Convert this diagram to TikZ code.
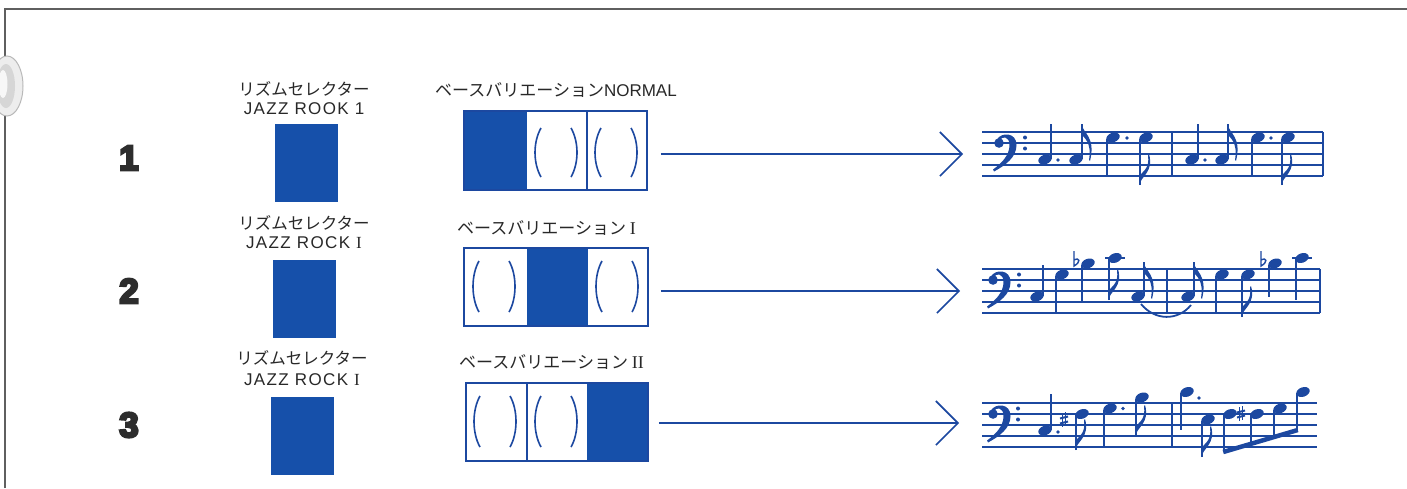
\documentclass[tikz,border=0pt]{standalone}
\usepackage{fontspec}
\setmainfont{Liberation Sans}
\newfontfamily\jp{Noto Sans CJK JP}
\newfontfamily\rom{Liberation Serif}
\newfontfamily\numf{Liberation Sans Bold}[FakeBold=7]
\usetikzlibrary{arrows.meta,calc}
\definecolor{bfill}{RGB}{22,80,170}
\definecolor{bline}{RGB}{28,72,160}
\definecolor{txt}{RGB}{40,40,40}
\definecolor{numc}{RGB}{45,45,45}
\definecolor{framec}{RGB}{95,95,95}
% music helpers
\newcommand\mhead[2]{\fill[bline] (#1,#2) ellipse [x radius=6.9, y radius=4.7, rotate=20];}
\newcommand\nU[3]{\mhead{#1}{#2}\draw[stemst] (#1+6,#2-1) -- (#1+6,#3);}
\newcommand\nD[3]{\mhead{#1}{#2}\draw[stemst] (#1-6,#2+1) -- (#1-6,#3);}
\newcommand\flU[2]{\fill[bline] (#1-0.8,#2) .. controls (#1+1,#2+9) and (#1+14,#2+13) .. (#1+8,#2+37) -- (#1+7,#2+36) .. controls (#1+10,#2+18) and (#1+2,#2+14) .. (#1-0.8,#2+10) -- cycle;}
\newcommand\flD[2]{\fill[bline] (#1-0.8,#2) .. controls (#1+1,#2-9) and (#1+14,#2-13) .. (#1+9,#2-31) -- (#1+8,#2-30) .. controls (#1+10,#2-16) and (#1+2,#2-13) .. (#1-0.8,#2-9) -- cycle;}
\newcommand\mdot[2]{\fill[bline] (#1,#2) circle (1.9);}
\newcommand\mflat[2]{\draw[bline,line width=1.4] (#1,#2-11) -- (#1,#2+4) .. controls (#1+7,#2) and (#1+6,#2-5) .. (#1,#2-2);}
\newcommand\msharp[2]{\draw[bline,line width=1.1] (#1-1.8,#2-7)--(#1-1.8,#2+7) (#1+1.8,#2-8)--(#1+1.8,#2+6);
  \draw[bline,line width=2] (#1-4,#2-1.5)--(#1+4,#2-3.5) (#1-4,#2+3.5)--(#1+4,#2+1.5);}
\newcommand\mledger[2]{\draw[staffl] (#1-10,#2) -- (#1+10,#2);}
\newcommand\mbar[2]{\draw[staffl] (#1,#2) -- (#1,#2+44);}
\newcommand\mstaff[3]{\foreach \k in {0,...,4} {\draw[staffl] (#1,#3+11*\k) -- (#2,#3+11*\k);}}
\newcommand\mclef[3]{\begin{scope}[shift={(#1,#2)}]
  \fill[bline] (0,0) circle (4.8);
  \fill[bline] (-2,-3.5) .. controls (2,-11) and (17.5,-11) .. (17.5,2) .. controls (17.5,14) and (7,22) .. (-5,28.5) -- (-6,26.5) .. controls (3,20) and (10.5,12) .. (10.5,2) .. controls (10.5,-7) and (3,-7) .. (1,-3) -- cycle;
  \fill[bline] (#3,-5.5) circle (2) (#3,5.5) circle (2);
  \end{scope}}
\newcommand\mparens[3]{% x0 (cell left), top, bottom
  \draw[parst] (#1+14,#2) .. controls (#1+6,#2+14) and (#1+6,#3-14) .. (#1+14,#3);
  \draw[parst] (#1+44,#2) .. controls (#1+52,#2+14) and (#1+52,#3-14) .. (#1+44,#3);}
\begin{document}
\begin{tikzpicture}[x=1pt,y=-1pt,
  staffl/.style={bline,line width=1.6},
  stemst/.style={bline,line width=1.8},
  parst/.style={bline,line width=1.6},
  selbox/.style={fill=bfill,inner sep=0pt,minimum width=63pt,minimum height=78pt},
  varbox/.style={draw=bline,line width=1.8pt,inner sep=0pt,minimum width=183pt,minimum height=79pt},
  lab/.style={text=txt,inner sep=0pt,font=\jp\fontsize{16.5}{18}\selectfont},
  labl/.style={text=txt,inner sep=0pt,font=\fontsize{17}{19}\selectfont\addfontfeature{LetterSpace=8}},
  vlab/.style={text=txt,inner sep=0pt,anchor=west,font=\jp\fontsize{17}{19}\selectfont},
  numst/.style={text=numc,inner sep=0pt,font=\numf\fontsize{35}{38}\selectfont},
  conn/.style={bline,line width=1.6pt,-{Straight Barb[length=22pt,width=44pt]}}]
\useasboundingbox (0,0) rectangle (1407,488);
\fill[white] (0,0) rectangle (1407,488);
% frame
\draw[framec,line width=1.5] (5,488) -- (5,9) -- (1407,9);
% binder ring
\fill[gray!14] (7,86) ellipse [x radius=16, y radius=30];
\draw[gray!55,line width=1] (7,86) ellipse [x radius=16, y radius=30];
\fill[gray!32] (6,86) ellipse [x radius=9, y radius=22];
\fill[gray!6] (3,84) ellipse [x radius=4.5, y radius=14];
% numbers
\node[numst] (n1) at (129,158) {1};
\node[numst] (n2) at (129,291) {2};
\node[numst] (n3) at (129,425) {3};
% selector labels and boxes
\node[lab] (sa1) at (304,89) {リズムセレクター};
\node[labl] (sb1) at (304,109) {JAZZ ROOK 1};
\node[selbox] (s1) at (306,163) {};
\node[lab] (sa2) at (304,223) {リズムセレクター};
\node[labl] (sb2) at (304,243) {JAZZ ROCK {\rom I}};
\node[selbox] (s2) at (304.5,298.5) {};
\node[lab] (sa3) at (302,358) {リズムセレクター};
\node[labl] (sb3) at (302,380) {JAZZ ROCK {\rom I}};
\node[selbox] (s3) at (302.5,436) {};
% variation labels
\node[vlab] (va1) at (435,90) {ベースバリエーション\fontspec{Liberation Sans}NORMAL};
\node[vlab] (va2) at (457,228) {ベースバリエーション {\rom\fontsize{18}{19}\selectfont I}};
\node[vlab] (va3) at (459,362) {ベースバリエーション {\rom\fontsize{18}{19}\selectfont II}};
% variation boxes
\fill[bfill] (464,111) rectangle (527,190);
\node[varbox] (v1) at (555.5,150.5) {};
\draw[parst] (587,111) -- (587,190);
\mparens{527}{128}{177}
\mparens{587}{128}{177}
\fill[bfill] (527,248) rectangle (588,326);
\node[varbox, minimum width=184pt, minimum height=78pt] (v2) at (556,287) {};
\mparens{465}{261}{312}
\mparens{588}{261}{312}
\fill[bfill] (587,383) rectangle (648,461);
\node[varbox, minimum width=182pt, minimum height=78pt] (v3) at (557,422) {};
\draw[parst] (527,383) -- (527,461);
\mparens{466}{396}{447}
\mparens{527}{396}{447}
% connectors
\coordinate (t1) at (963,154);
\coordinate (t2) at (960,291);
\coordinate (t3) at (959,423);
\draw[conn] ($(v1.east|-t1)+(13,0)$) -- (t1);
\draw[conn] ($(v2.east|-t2)+(12,0)$) -- (t2);
\draw[conn] ($(v3.east|-t3)+(10,0)$) -- (t3);
% ---- row 1 music
\mstaff{982}{1323}{132}
\mclef{999}{143}{26}
\nU{1045}{159.5}{124}\mdot{1058}{160}
\nU{1076}{159.5}{124}\flU{1082}{124}
\nD{1113}{137.5}{176}\mdot{1127}{138}
\nD{1146}{137.5}{185}\flD{1140}{185}
\mbar{1172}{132}
\nU{1192}{159.5}{124}\mdot{1205}{160}
\nU{1222}{159.5}{124}\flU{1228}{124}
\nD{1258}{137.5}{176}\mdot{1271}{138}
\nD{1288}{137.5}{185}\flD{1282}{185}
\mbar{1323}{132}
% ---- row 2 music
\mstaff{982}{1320}{269}
\mclef{993}{280}{26}
\nU{1037}{296.5}{265}
\nD{1062}{274.5}{313}
\mflat{1074}{262}\nD{1088}{263.5}{302}
\mledger{1115}{258}\nD{1115}{258}{300}\flD{1109}{300}
\nU{1138}{296.5}{262}\flU{1144}{262}
\draw[bline,line width=1.8] (1141,304) .. controls (1155,321) and (1178,321) .. (1191,305);
\mbar{1167}{269}
\nU{1188}{296.5}{262}\flU{1194}{262}
\nD{1222}{274.5}{313}
\nD{1248}{274.5}{317}\flD{1242}{317}
\mflat{1261}{262}\nD{1275}{263.5}{297}
\mledger{1302}{258}\nD{1302}{258}{300}
\mbar{1320}{269}
% ---- row 3 music
\mstaff{982}{1317}{403}
\mclef{993}{414}{25}
\nU{1045}{430.5}{394}\mdot{1058}{432}
\msharp{1064}{420}\nD{1082}{414}{450}\flD{1076}{450}
\nD{1110}{408.5}{448}\mdot{1123}{408.5}
\nD{1142}{397.5}{436}\flD{1136}{436}
\mbar{1172}{403}
\nD{1187}{392}{430}\mdot{1199}{398}
\nD{1208}{419.5}{457}\flD{1202}{457}
\nD{1230}{414}{452}
\msharp{1241}{414}
\nD{1257}{414}{444}
\nD{1280}{408.5}{437}
\nD{1303}{392}{430}
\draw[bline,line width=4.5] (1223.2,452) -- (1297.8,430);
\end{tikzpicture}
\end{document}
